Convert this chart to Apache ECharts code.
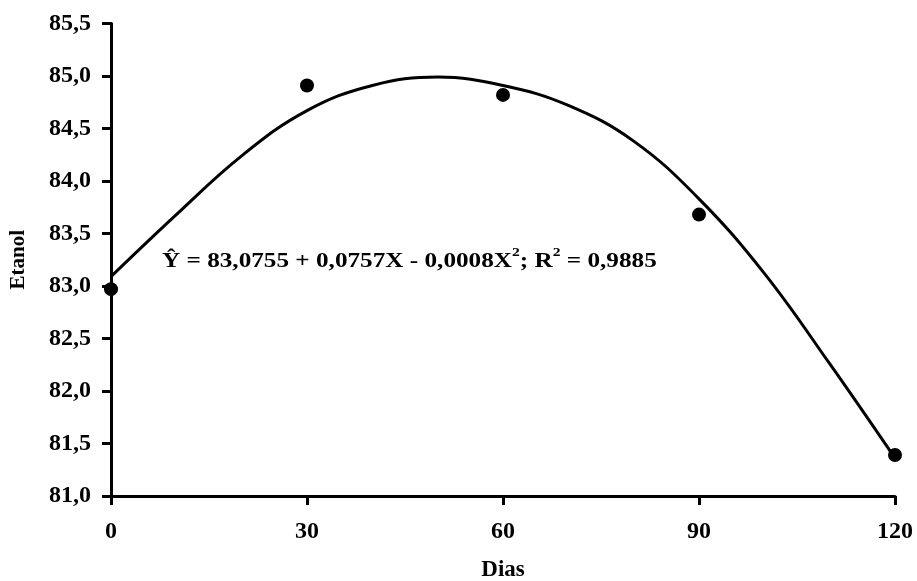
<!DOCTYPE html>
<html>
<head>
<meta charset="utf-8">
<script src="https://cdn.jsdelivr.net/npm/echarts@6/dist/echarts.min.js"></script>
<style>
html,body{margin:0;padding:0;background:#fff;}
#chart{width:917px;height:581px;}
</style>
</head>
<body>
<div id="chart"></div>
<script>
// Observed data
const dias = [0, 30, 60, 90, 120];
const etanol = [82.97, 84.91, 84.82, 83.68, 81.39];

// Fitted curve as drawn
const curveX = [0, 10, 20, 30, 40, 50, 60, 70, 80, 90, 100, 110, 120];
const curveY = [83.09, 83.68, 84.24, 84.67, 84.91, 84.99, 84.91, 84.72, 84.38, 83.83, 83.12, 82.26, 81.36];

const xTicks = [0, 30, 60, 90, 120];
const yMin = 81.0, yMax = 85.5, yStep = 0.5;

const equationText = '83,0755 + 0,0757X - 0,0008X';
const r2Text = '0,9885';

const FONT = "'Liberation Serif', 'Times New Roman', serif";

const chart = echarts.init(document.getElementById('chart'));
const axisLineStyle = { color: '#000', width: 3 };

chart.setOption({
  animation: false,
  backgroundColor: '#fff',
  grid: { left: 111, right: 22, top: 23.5, bottom: 85, containLabel: false, outerBoundsMode: 'none' },
  xAxis: {
    type: 'value', min: xTicks[0], max: xTicks[xTicks.length - 1], interval: 30,
    name: 'Dias', nameLocation: 'middle', nameGap: 63,
    nameTextStyle: { fontFamily: FONT, fontWeight: 'bold', fontSize: 23, color: '#000' },
    axisLine: { onZero: false, lineStyle: axisLineStyle },
    axisTick: { show: true, length: 9, lineStyle: axisLineStyle },
    axisLabel: { margin: 24, fontFamily: FONT, fontWeight: 'bold', fontSize: 24, color: '#000' },
    splitLine: { show: false }
  },
  yAxis: {
    type: 'value', min: yMin, max: yMax, interval: yStep,
    name: 'Etanol', nameLocation: 'middle', nameGap: 82,
    nameTextStyle: { fontFamily: FONT, fontWeight: 'bold', fontSize: 21, color: '#000' },
    axisLine: { onZero: false, lineStyle: axisLineStyle },
    axisTick: { show: true, length: 9, lineStyle: axisLineStyle },
    axisLabel: {
      margin: 20, fontFamily: FONT, fontWeight: 'bold', fontSize: 24, color: '#000',
      formatter: v => v.toFixed(1).replace('.', ',')
    },
    splitLine: { show: false }
  },
  series: [
    {
      type: 'line', smooth: 0.4, showSymbol: false, clip: false,
      data: curveX.map((x, i) => [x, curveY[i]]),
      lineStyle: { color: '#000', width: 3 },
      z: 2
    },
    {
      type: 'scatter', symbol: 'circle', symbolSize: 14, clip: false,
      data: dias.map((x, i) => [x, etanol[i]]),
      itemStyle: { color: '#000', opacity: 1 },
      z: 3
    }
  ],
  graphic: [{
    type: 'text', x: 162, y: 246, scaleX: 1.2, z: 10,
    style: {
      text: '{n|Ŷ = ' + equationText + '}{s|2}{n|; R}{s|2}{n| = ' + r2Text + '}',
      rich: {
        n: { fontFamily: FONT, fontWeight: 'bold', fontSize: 21, fill: '#000', verticalAlign: 'bottom', lineHeight: 26 },
        s: { fontFamily: FONT, fontWeight: 'bold', fontSize: 13, fill: '#000', verticalAlign: 'top', lineHeight: 26, padding: [0, 0, 12, 0] }
      }
    }
  }]
});
</script>
</body>
</html>
